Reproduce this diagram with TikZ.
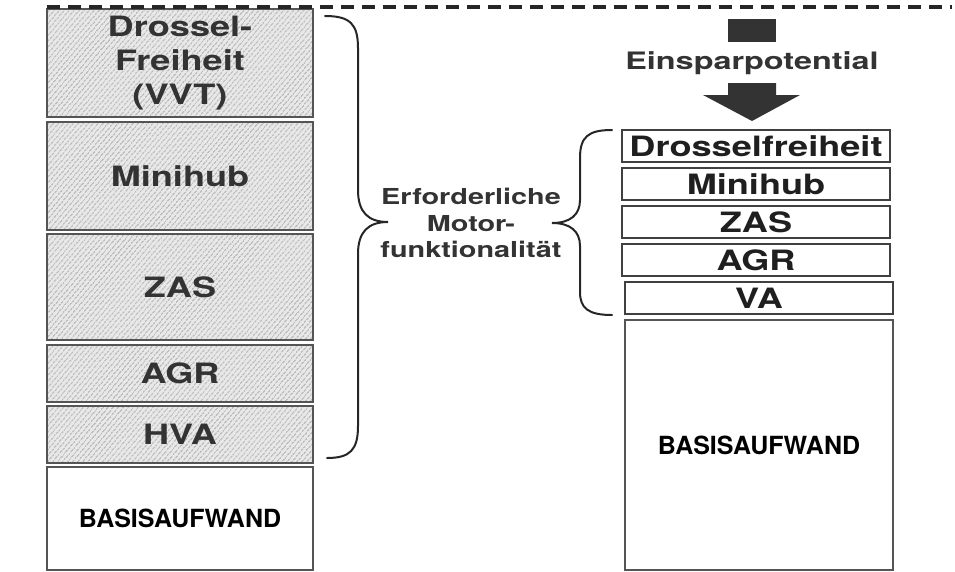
\documentclass[tikz,border=0pt]{standalone}
\usepackage{fontspec}
\setsansfont{TeX Gyre Heros}
\usepackage{graphicx}
\usetikzlibrary{positioning,patterns.meta}
\definecolor{DiaGrau}{HTML}{333333}
\definecolor{DiaRand}{HTML}{555555}
\newcommand{\breit}[2][1.29]{\scalebox{#1}[1]{#2}}

\begin{document}
\begin{tikzpicture}[x=1pt,y=-1pt,font=\sffamily\bfseries,
  schicht/.style={draw=DiaRand,line width=1.2pt,minimum width=266pt,inner sep=0pt,outer sep=0pt,
    preaction={fill=black!9},pattern={Lines[angle=50,distance=4pt,line width=0.6pt]},pattern color=black!55,
    text=DiaGrau,align=center,font=\sffamily\bfseries\fontsize{28}{34}\selectfont},
  stufe/.style={draw=black!75,line width=1.2pt,minimum width=268pt,minimum height=32pt,inner sep=0pt,outer sep=0pt,
    text=black!88,font=\sffamily\bfseries\fontsize{28}{30}\selectfont},
  basis/.style={draw=DiaRand,line width=1.2pt,fill=white,inner sep=0pt,outer sep=0pt,
    font=\sffamily\bfseries\fontsize{25}{30}\selectfont},
  klammer/.style={draw=black!85,line width=2pt,line cap=round},
  grenze/.style={draw=black!85,line width=3.2pt,dash pattern=on 13pt off 8pt}]
  \useasboundingbox (0,0) rectangle (955,571);

  % linke Saeule
  \node[schicht,minimum height=108pt] (vvt) at (180,63) {\breit{Drossel-}\\\breit{Freiheit}\\\breit{(VVT)}};
  \node[schicht,minimum height=108pt,below=5pt of vvt] (mhub) {\breit{Minihub}};
  \node[schicht,minimum height=106pt,below=4pt of mhub] (zas) {\breit{ZAS}};
  \node[schicht,minimum height=57pt,below=5pt of zas] (agr) {\breit{AGR}};
  \node[schicht,minimum height=57pt,below=4pt of agr] (hva) {\breit{HVA}};
  \node[basis,minimum width=266pt,minimum height=103pt,below=4pt of hva] (basisl) {BASISAUFWAND};

  \draw[grenze] (47,7) -- (952,7);

  % Klammern und Mitte
  \draw[klammer] (325,16) .. controls (350,16) and (358,24) .. (358,48) -- (358,190)
    .. controls (358,212) and (368,222) .. (388,222) .. controls (368,222) and (358,232) .. (358,254)
    -- (358,426) .. controls (358,450) and (350,458) .. (327,458);
  \node[text=DiaGrau,align=center,font=\sffamily\bfseries\fontsize{22}{26.5}\selectfont] (motor) at (471,223)
    {\breit[1.31]{Erforderliche}\\\breit[1.31]{Motor-}\\\breit[1.31]{funktionalität}};
  \draw[klammer] (612,130) .. controls (588,130) and (580,137) .. (580,158) -- (580,200)
    .. controls (580,215) and (570,223) .. (552,223) .. controls (570,223) and (580,231) .. (580,246)
    -- (580,292) .. controls (580,308) and (588,315) .. (612,315);

  % rechte Saeule
  \node[fill=DiaGrau,minimum width=48pt,minimum height=23pt,inner sep=0pt] (balken) at (752,30) {};
  \node[text=DiaGrau,font=\sffamily\bfseries\fontsize{24}{28}\selectfont] (spar) at (752,63) {\breit[1.35]{Einsparpotential}};
  \coordinate (pfeil) at (752,83);
  \fill[DiaGrau] (pfeil) ++(-24,0) -- ++(48,0) -- ++(0,12) -- ++(24,0) -- ++(-48,26) -- ++(-49,-26) -- ++(25,0) -- cycle;

  \node[stufe] (dfrei) at (756,146) {\breit{Drosselfreiheit}};
  \node[stufe,below=6pt of dfrei] (mhubr) {\breit{Minihub}};
  \node[stufe,below=6pt of mhubr] (zasr) {\breit{ZAS}};
  \node[stufe,below=6pt of zasr] (agrr) {\breit{AGR}};
  \node[stufe,below=6pt of agrr,xshift=3pt] (va) {\breit{VA}};
  \node[basis,minimum width=268pt,minimum height=250pt,below=6pt of va] (basisr) {BASISAUFWAND};
\end{tikzpicture}
\end{document}
